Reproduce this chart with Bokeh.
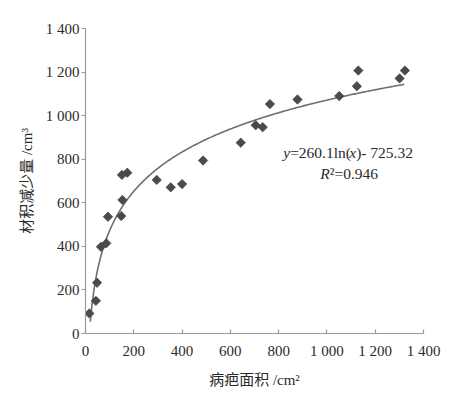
import numpy as np
from bokeh.plotting import figure
from bokeh.models import Range1d, CustomJSTickFormatter, FixedTicker, Label, ColumnDataSource
from bokeh.embed import file_html
from bokeh.resources import INLINE

# lesion area (cm^2) and volume loss (cm^3)
area = [16, 43, 48, 64, 86, 93, 148, 153, 151, 173, 295, 353, 400, 487,
        643, 705, 734, 764, 878, 1051, 1124, 1130, 1301, 1323]
loss = [92, 150, 233, 398, 414, 536, 539, 613, 728, 738, 705, 671, 686, 794,
        876, 956, 947, 1053, 1074, 1090, 1135, 1207, 1171, 1207]

# fitted trend: y = a ln(x) + b
fit_a = 260.1
fit_b = -725.32
fit_x_min = 20
fit_x_max = 1320

x_ticks = [0, 200, 400, 600, 800, 1000, 1200, 1400]
y_ticks = [0, 200, 400, 600, 800, 1000, 1200, 1400]

SERIF = "'Liberation Serif', 'Noto Sans CJK SC'"
TXT = "#2a2a2a"
AX = "#9a9a9a"

p = figure(frame_width=338, frame_height=305,
           min_border_left=85, min_border_right=20,
           min_border_top=28, min_border_bottom=56,
           x_range=Range1d(0, 1400), y_range=Range1d(0, 1400),
           output_backend="svg", toolbar_location=None,
           background_fill_color="white", border_fill_color="white")
p.outline_line_color = None
p.xgrid.visible = False
p.ygrid.visible = False

fmt = CustomJSTickFormatter(code="""
if (tick >= 1000) {
  const th = Math.floor(tick / 1000);
  const r = String(Math.round(tick % 1000)).padStart(3, '0');
  return th + ' ' + r;
}
return String(tick);
""")

for ax, ticks in ((p.xaxis[0], x_ticks), (p.yaxis[0], y_ticks)):
    ax.ticker = FixedTicker(ticks=ticks)
    ax.formatter = fmt
    ax.minor_tick_line_color = None
    ax.axis_line_color = AX
    ax.major_tick_line_color = AX
    ax.axis_line_width = 1.2
    ax.major_tick_line_width = 1.2
    ax.major_label_text_font = SERIF
    ax.major_label_text_font_size = "15px"
    ax.major_label_text_color = TXT
    ax.axis_label_text_font = SERIF
    ax.axis_label_text_font_size = "15px"
    ax.axis_label_text_font_style = "normal"
    ax.axis_label_text_color = TXT

p.xaxis.major_tick_in = 4
p.xaxis.major_tick_out = 0
p.xaxis.major_label_standoff = 9
p.xaxis.axis_label = "病疤面积 /cm²"
p.xaxis.axis_label_standoff = 10

p.yaxis.major_tick_in = 0
p.yaxis.major_tick_out = 4
p.yaxis.major_label_standoff = 2
p.yaxis.axis_label = "材积减少量 /cm³"
p.yaxis.axis_label_standoff = 8

# trend line
xs = np.linspace(fit_x_min, fit_x_max, 300)
ys = fit_a * np.log(xs) + fit_b
p.line(xs, ys, line_color="#6e6e6e", line_width=1.6)

# points
src = ColumnDataSource(dict(x=area, y=loss))
p.scatter("x", "y", source=src, marker="square", size=6.6, angle=np.pi / 4,
          fill_color="#4a4a4a", line_color="#4a4a4a", line_width=0.8)

# equation annotation
FS = "15.5px"
eq_x, eq_y = 819, 832
parts = [("y", "italic", 0), ("=260.1ln(", "normal", 6.9), ("x", "italic", 66.0),
         (")- 725.32", "normal", 72.9)]
for txt, style, off in parts:
    p.add_layout(Label(x=eq_x, y=eq_y, x_offset=off, text=txt, text_font=SERIF,
                       text_font_size=FS, text_font_style=style, text_color=TXT,
                       text_baseline="alphabetic"))
r_x, r_y = 972, 736
for txt, style, off in [("R", "italic", 0), ("²=0.946", "normal", 9.6)]:
    p.add_layout(Label(x=r_x, y=r_y, x_offset=off, text=txt, text_font=SERIF,
                       text_font_size=FS, text_font_style=style, text_color=TXT,
                       text_baseline="alphabetic"))

open("out.html", "w").write(file_html(p, INLINE))
